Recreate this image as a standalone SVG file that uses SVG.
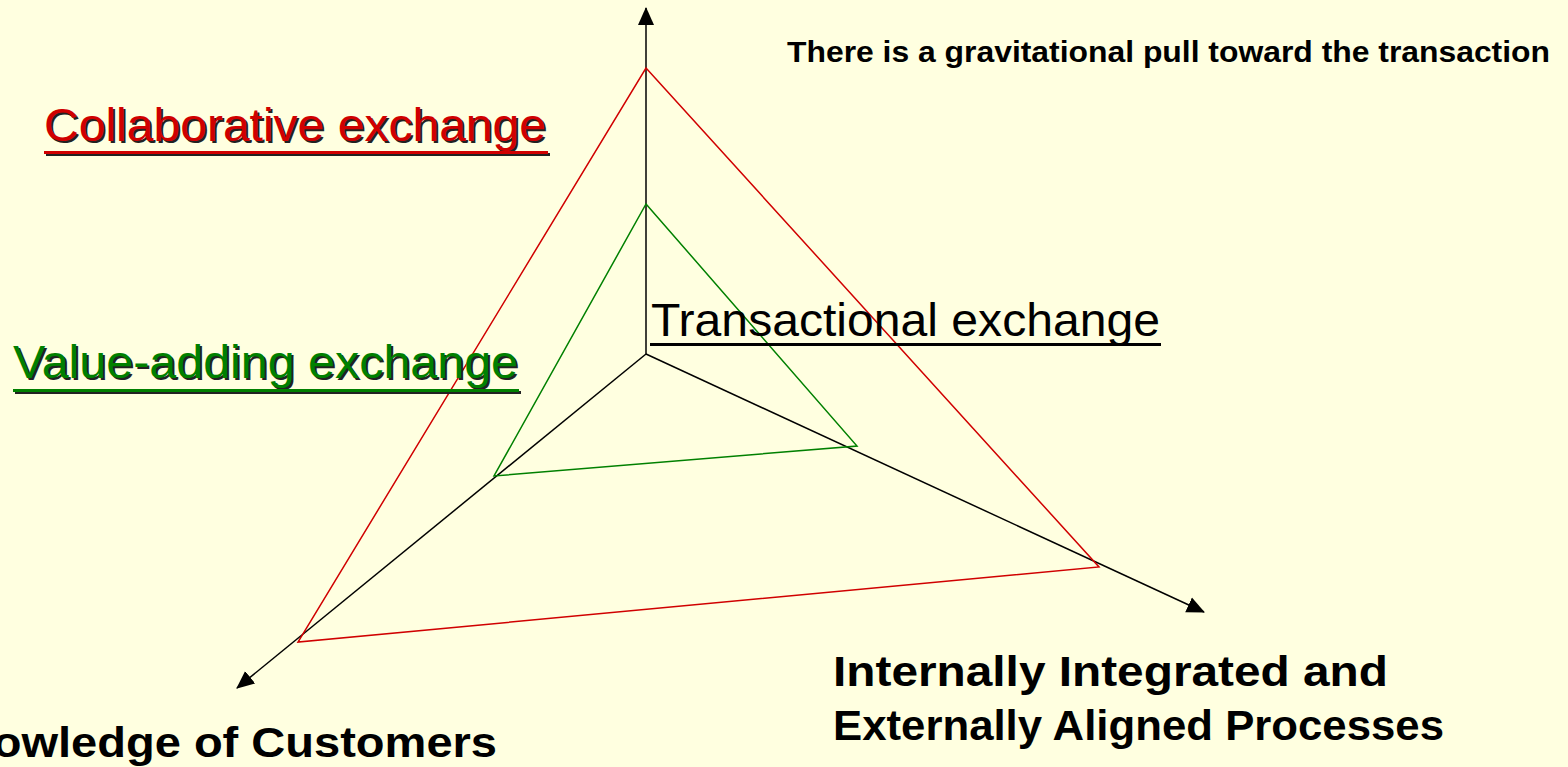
<svg xmlns="http://www.w3.org/2000/svg" width="1568" height="767" viewBox="0 0 1568 767">
<defs>
<marker id="ah" markerUnits="userSpaceOnUse" markerWidth="18" markerHeight="18" viewBox="0 0 18 18" refX="17" refY="9" orient="auto">
<path d="M0,1 L18,9 L0,17 Z" fill="#000"/>
</marker>
<style>
.bg{fill:#FFFFE0}
.axis{stroke:#000;stroke-width:1.5;fill:none}
.red{stroke:#D00000;stroke-width:1.5;fill:none}
.green{stroke:#008000;stroke-width:1.5;fill:none}
.big{font-family:"Liberation Sans",Arial,sans-serif;font-size:46px}
.bold{font-family:"Liberation Sans",Arial,sans-serif;font-weight:bold}
.shadow{fill:#222}
</style>
</defs>
<rect class="bg" x="0" y="0" width="1568" height="767"/>
<g id="connectors">
<line class="axis" x1="646" y1="354" x2="646" y2="8" marker-end="url(#ah)"/>
<line class="axis" x1="646" y1="354" x2="237" y2="688" marker-end="url(#ah)"/>
<line class="axis" x1="646" y1="354" x2="1204" y2="612" marker-end="url(#ah)"/>
<path class="red" d="M646,68 L1099,567 L298,642 Z"/>
<path class="green" d="M646,204 L857,446 L494,476 Z"/>
</g>
<g id="note">
<text class="bold" x="787" y="62" font-size="29" textLength="763" lengthAdjust="spacingAndGlyphs">There is a gravitational pull toward the transaction</text>
</g>
<g id="collaborative">
<text class="big shadow" x="46" y="143" textLength="502" lengthAdjust="spacingAndGlyphs">Collaborative exchange</text>
<rect class="shadow" x="46" y="153" width="504" height="3"/>
<text class="big" x="44" y="141" fill="#D00000" textLength="502" lengthAdjust="spacingAndGlyphs">Collaborative exchange</text>
<rect x="44" y="151" width="504" height="3" fill="#D00000"/>
</g>
<g id="value-adding">
<text class="big shadow" x="15" y="380" textLength="505" lengthAdjust="spacingAndGlyphs">Value-adding exchange</text>
<rect class="shadow" x="15" y="391" width="506" height="3"/>
<text class="big" x="13" y="378" fill="#008000" textLength="505" lengthAdjust="spacingAndGlyphs">Value-adding exchange</text>
<rect x="13" y="389" width="506" height="3" fill="#008000"/>
</g>
<g id="transactional">
<text class="big" x="651" y="336" fill="#000" textLength="509" lengthAdjust="spacingAndGlyphs">Transactional exchange</text>
<rect x="650" y="343" width="511" height="3" fill="#000"/>
</g>
<g id="knowledge">
<text class="bold" x="-70" y="757" font-size="42" textLength="567" lengthAdjust="spacingAndGlyphs">Knowledge of Customers</text>
</g>
<g id="processes">
<text class="bold" x="833" y="686" font-size="42" textLength="555" lengthAdjust="spacingAndGlyphs">Internally Integrated and</text>
<text class="bold" x="833" y="740" font-size="42" textLength="611" lengthAdjust="spacingAndGlyphs">Externally Aligned Processes</text>
</g>
</svg>
